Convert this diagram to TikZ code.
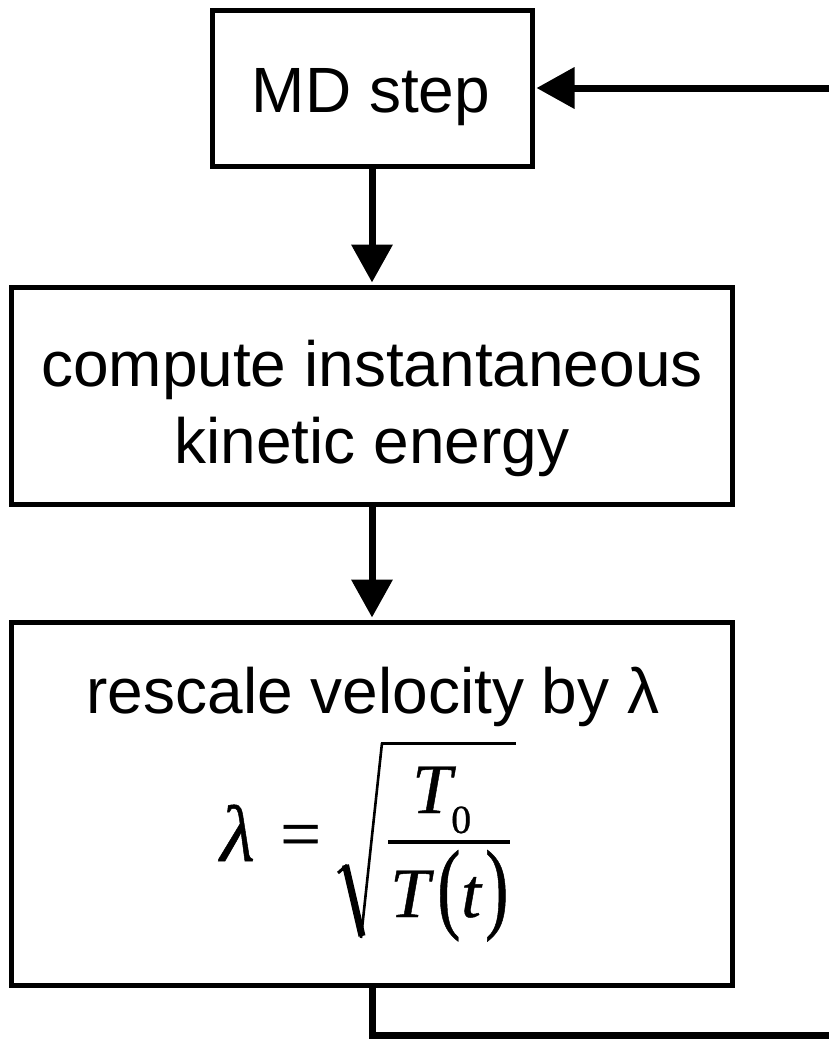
\documentclass[tikz,border=0pt]{standalone}
\usepackage{fontspec}
\usepackage{graphicx}
\setmainfont{Liberation Sans}
\newfontfamily\serifrm[FakeBold=0.6]{Liberation Serif}
\usetikzlibrary{arrows.meta}
\begin{document}
\begin{tikzpicture}[x=1pt,y=-1pt,
  stepbox/.style={draw,line width=5pt,inner sep=0pt},
  lbl/.style={font=\fontsize{64}{77}\selectfont,anchor=base,inner sep=0pt},
  mathit/.style={font=\serifrm\itshape\fontsize{71}{71}\selectfont,anchor=base west,inner sep=0pt},
  mathrm/.style={font=\serifrm\fontsize{70}{70}\selectfont,anchor=base west,inner sep=0pt},
  conn/.style={line width=7pt,line join=miter,-{Triangle[length=38pt,width=40pt]},shorten >=2pt},
  radical/.style={line cap=butt,line join=miter}]
\useasboundingbox (0,0) rectangle (829,1039);
% boxes
\node[stepbox,minimum width=320pt,minimum height=156pt] (md) at (372,88) {};
\node[stepbox,minimum width=721pt,minimum height=217pt] (ke) at (372,395.5) {};
\node[stepbox,minimum width=721pt,minimum height=363pt] (rs) at (372,803.5) {};
% texts
\node[lbl] (tmd) at (371,112) {MD step};
\node[lbl] (tke1) at (372,386) {compute instantaneous};
\node[lbl] (tke2) at (372,463) {kinetic energy};
\node[lbl] (trs) at (373,713) {rescale velocity by λ};
% formula
\node[mathit,font=\serifrm\itshape\fontsize{80}{80}\selectfont] (lam) at (220,861) {λ};
\node[mathrm,font=\serifrm\fontsize{72}{72}\selectfont] (eq) at (280,858) {=};
\node[mathit] (tn) at (412,813) {T};
\node[mathrm,font=\serifrm\fontsize{40}{40}\selectfont] (zero) at (451,833) {0};
\node[mathit] (td) at (390,917) {T};
\node[mathrm] (lp) at (437,920) {\scalebox{1}[1.44]{(}};
\node[mathit] (tt) at (461,917) {t};
\node[mathrm] (rp) at (485,920) {\scalebox{1}[1.44]{)}};
\draw[line width=3.2pt] (388,842) -- (510,842);
\draw[radical,line width=3pt] (338,873) -- (347,865);
\draw[radical,line width=7pt] (345.5,865) -- (362,936);
\draw[radical,line width=2.6pt] (361,938) -- (382,743);
\draw[radical,line width=3pt] (381,743) -- (516,743);
% connectors
\coordinate (cbl) at (372,1035);
\coordinate (cbr) at (838,1035);
\draw[conn] (md.south) -- (ke.north);
\draw[conn] (ke.south) -- (rs.north);
\draw[conn] (rs.south) -- (cbl) -- (cbr) |- (md.east);
\end{tikzpicture}
\end{document}
